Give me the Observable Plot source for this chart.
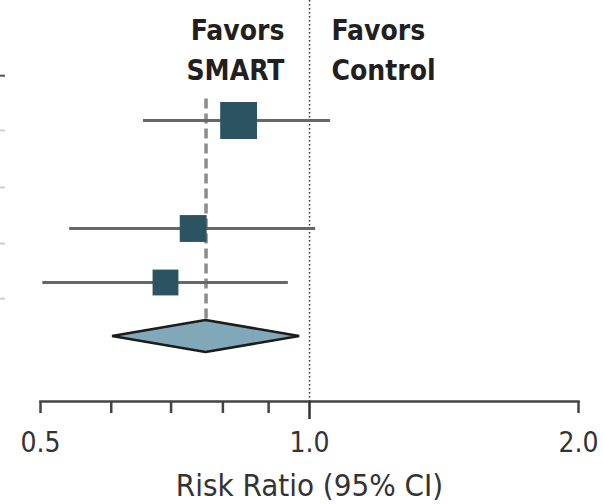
<!DOCTYPE html>
<html>
<head>
<meta charset="utf-8">
<script src="https://cdn.jsdelivr.net/npm/d3@7"></script>
<script src="https://cdn.jsdelivr.net/npm/@observablehq/plot@0.6"></script>
<style>
  html, body { margin: 0; padding: 0; background: #fff; }
  #chart { width: 603px; height: 504px; }
</style>
</head>
<body>
<div id="chart"></div>
<script>
// ---- Data ----
const studyRows    = [0, 2, 3];                 // row index of each study
const studyRR      = [0.833, 0.741, 0.690];     // risk ratio point estimates
const studyLower   = [0.652, 0.539, 0.503];     // 95% CI lower
const studyUpper   = [1.056, 1.016, 0.947];     // 95% CI upper
const studyWeight  = [49.4, 26.3, 24.3];        // relative weight (%)

const pooledRow    = 4;
const pooledRR     = 0.766;
const pooledLower  = 0.602;
const pooledUpper  = 0.975;

const minorTicks   = [0.5, 0.6, 0.7, 0.8, 0.9, 2.0];
const nullTick     = [1.0];
const labelTicks   = [0.5, 1.0, 2.0];
const favorsLeft   = ["Favors\nSMART"];
const favorsRight  = ["Favors\nControl"];
const axisTitle    = ["Risk Ratio (95% CI)"];
const headerRule   = [-0.83];                   // divider ticks from the table panel
const rowRules     = [0.185, 1.24, 2.28, 3.30];

// ---- Build tables ----
const studies = studyRows.map((row, i) => ({
  row, rr: studyRR[i], lo: studyLower[i], hi: studyUpper[i], w: studyWeight[i]
}));
const halfH = 0.296;
const diamond = [
  {y: pooledRow - halfH, x1: pooledRR,    x2: pooledRR},
  {y: pooledRow,         x1: pooledLower, x2: pooledUpper},
  {y: pooledRow + halfH, x1: pooledRR,    x2: pooledRR}
];

const FONT = "'DejaVu Sans Condensed', 'DejaVu Sans', sans-serif";
const INK = "#231f20";

const chart = Plot.plot({
  width: 603,
  height: 504,
  marginLeft: 40,
  marginRight: 25,
  marginTop: 0,
  marginBottom: 103,
  style: {fontFamily: FONT, fontStretch: "condensed", background: "#fff", color: INK, overflow: "visible"},
  x: {type: "log", domain: [0.5, 2], axis: null},
  y: {domain: [0, 4], range: [120, 336], axis: null},
  r: {domain: [0, 50], range: [0, 20.9]},
  marks: [
    // table-panel divider ticks at far left
    Plot.axisY(headerRule, {anchor: "left", tickSize: 5, dx: -35, tickFormat: () => "", stroke: "#555", strokeWidth: 2}),
    Plot.axisY(rowRules, {anchor: "left", tickSize: 5, dx: -35, tickFormat: () => "", stroke: "#cfcfcf", strokeWidth: 2}),
    // null line
    Plot.ruleX(nullTick, {stroke: "#333", strokeWidth: 1.5, strokeDasharray: "1.5,2.5"}),
    // pooled estimate dashed line
    Plot.ruleX([pooledRR], {y1: -0.4, y2: pooledRow - halfH, stroke: "#8c8c8c", strokeWidth: 3.5, strokeDasharray: "10,5"}),
    // CIs
    Plot.ruleY(studies, {y: "row", x1: "lo", x2: "hi", stroke: "#676767", strokeWidth: 3}),
    // squares
    Plot.dot(studies, {x: "rr", y: "row", r: "w", symbol: "square", fill: "#2c5361", stroke: null}),
    // diamond
    Plot.areaX(diamond, {y: "y", x1: "x1", x2: "x2", fill: "#80a8b8", stroke: "#1c1c1c", strokeWidth: 2.5, strokeLinejoin: "miter"}),
    // axis line
    Plot.frame({anchor: "bottom", stroke: "#444", strokeWidth: 2.5}),
    Plot.axisX(minorTicks, {anchor: "bottom", tickSize: 12, tickFormat: () => "", stroke: "#444", strokeWidth: 2.5}),
    Plot.axisX(nullTick, {anchor: "bottom", tickSize: 18, tickFormat: () => "", stroke: "#333", strokeWidth: 2.5}),
    Plot.axisX(labelTicks, {anchor: "bottom", tickSize: 0, tickPadding: 31, fontSize: 28, tickFormat: d3.format(".1f"), fill: "#333", label: null}),
    // axis title
    Plot.text(axisTitle, {frameAnchor: "bottom", lineAnchor: "bottom", dy: 94, fontSize: 31, fill: "#333"}),
    // favors labels
    Plot.text(favorsLeft, {x: () => 1, frameAnchor: "top", lineAnchor: "top", textAnchor: "end", dx: -25, dy: 10, lineHeight: 1.46, fontSize: 28, fontWeight: "bold", fill: INK}),
    Plot.text(favorsRight, {x: () => 1, frameAnchor: "top", lineAnchor: "top", textAnchor: "start", dx: 22, dy: 10, lineHeight: 1.46, fontSize: 28, fontWeight: "bold", fill: INK})
  ]
});
document.getElementById("chart").appendChild(chart);
</script>
</body>
</html>
